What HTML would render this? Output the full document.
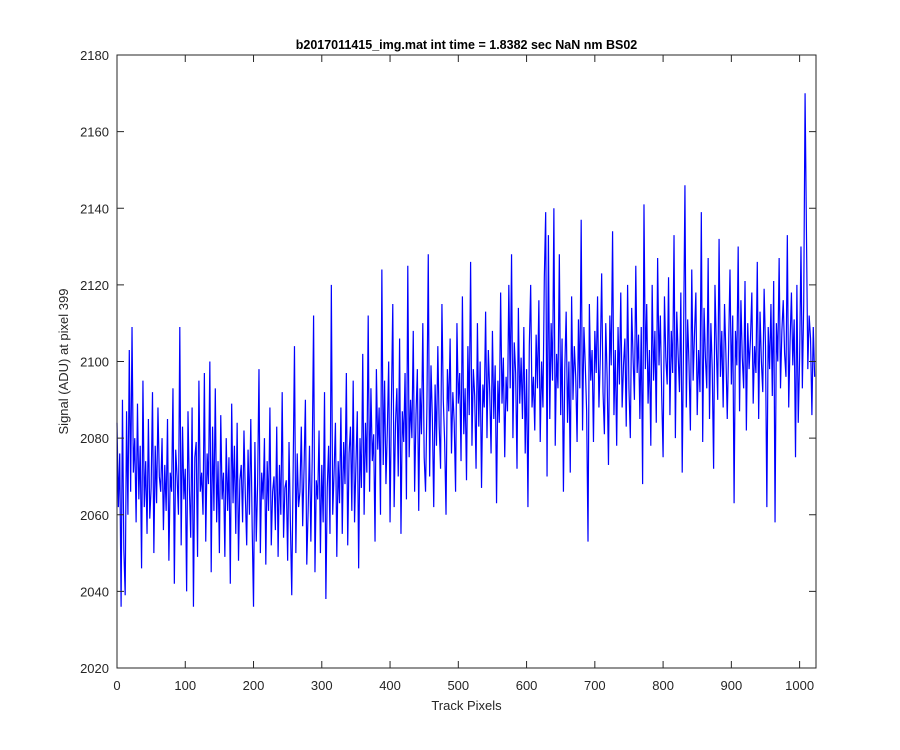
<!DOCTYPE html>
<html><head><meta charset="utf-8"><style>
body{margin:0;background:#fff;}
svg{display:block;font-family:"Liberation Sans",Arial,sans-serif;}
</style></head><body>
<svg id="chart" width="900" height="750">
<rect width="900" height="750" fill="#fff"/>
<g id="plot"></g>
</svg>
<script>
const xTicks=[0,100,200,300,400,500,600,700,800,900,1000];
const yTicks=[2020,2040,2060,2080,2100,2120,2140,2160,2180];
const step=2;
const signal=[
2084,2062,2076,2036,2090,2051,2039,2087,2060,2103,2066,2109,2071,2080,2058,2089,2064,2078,2046,2095,2062,2074,2055,2085,2059,2067,2092,2050,2078,2063,2088,2070,
2066,2080,2056,2073,2061,2085,2048,2071,2066,2093,2042,2077,2070,2060,2109,2052,2083,2064,2072,2040,2087,2067,2054,2088,2036,2075,2079,2049,2095,2066,2071,2060,
2097,2053,2076,2068,2100,2045,2083,2061,2093,2058,2074,2050,2086,2064,2071,2049,2080,2061,2075,2042,2089,2063,2078,2055,2084,2048,2069,2073,2058,2082,2065,2052,
2077,2060,2085,2057,2036,2079,2053,2068,2098,2050,2071,2064,2080,2047,2074,2061,2088,2052,2066,2070,2056,2083,2049,2073,2060,2092,2054,2067,2069,2048,2079,2058,
2039,2071,2104,2050,2076,2062,2066,2083,2057,2072,2090,2047,2061,2078,2053,2075,2112,2045,2069,2064,2082,2050,2073,2058,2092,2038,2067,2078,2055,2120,2060,2071,
2084,2049,2074,2063,2088,2055,2079,2068,2097,2052,2076,2083,2061,2095,2058,2073,2087,2046,2080,2067,2102,2060,2084,2071,2112,2066,2093,2074,2081,2053,2098,2077,
2088,2060,2124,2073,2095,2068,2082,2100,2058,2089,2115,2062,2084,2093,2070,2106,2055,2087,2079,2097,2064,2125,2075,2090,2080,2108,2066,2086,2098,2061,2093,2081,
2110,2075,2066,2088,2128,2070,2099,2085,2062,2094,2078,2104,2083,2072,2115,2090,2079,2060,2098,2087,2106,2076,2092,2084,2066,2110,2089,2097,2074,2117,2081,2093,
2069,2104,2086,2126,2078,2098,2091,2072,2110,2083,2100,2067,2094,2088,2113,2080,2103,2092,2076,2108,2085,2099,2063,2095,2084,2118,2089,2101,2075,2096,2087,2120,
2093,2128,2080,2105,2097,2072,2114,2089,2101,2085,2109,2076,2098,2062,2104,2120,2088,2096,2082,2107,2093,2116,2079,2100,2088,2122,2139,2070,2133,2085,2110,2095,
2140,2078,2102,2093,2128,2086,2106,2066,2098,2113,2084,2100,2071,2117,2090,2104,2096,2079,2111,2093,2137,2082,2109,2099,2087,2053,2115,2095,2103,2079,2108,2097,
2117,2088,2101,2123,2092,2081,2110,2096,2073,2112,2099,2134,2086,2103,2078,2109,2094,2118,2088,2099,2106,2083,2120,2093,2080,2114,2101,2090,2125,2097,2107,2085,
2109,2068,2141,2098,2115,2089,2103,2078,2120,2095,2108,2084,2127,2099,2112,2091,2075,2117,2101,2094,2122,2086,2108,2097,2133,2080,2113,2102,2092,2118,2071,2106,
2146,2088,2111,2099,2082,2124,2095,2107,2118,2086,2103,2092,2139,2079,2114,2101,2093,2127,2085,2110,2098,2072,2120,2104,2090,2132,2096,2108,2088,2115,2102,2085,
2104,2124,2094,2112,2063,2108,2099,2130,2087,2116,2101,2093,2121,2082,2110,2098,2106,2118,2089,2104,2097,2126,2085,2113,2100,2092,2119,2104,2062,2109,2098,2115,
2091,2121,2058,2110,2100,2127,2093,2108,2116,2102,2096,2133,2088,2105,2118,2099,2111,2075,2120,2084,2101,2130,2093,2115,2170,2134,2098,2112,2106,2086,2109,2096
];
const L=117,R=816,T=55,B=668,XMAX=1024,YMIN=2020,YMAX=2180;
const xs=v=>L+(v/XMAX)*(R-L);
const ys=v=>B-(v-YMIN)/(YMAX-YMIN)*(B-T);
const NS='http://www.w3.org/2000/svg';
const g=document.getElementById('plot');
function mk(t,a){const e=document.createElementNS(NS,t);for(const k in a)e.setAttribute(k,a[k]);g.appendChild(e);return e;}
const pts=signal.map((v,i)=>xs(i*step).toFixed(2)+','+ys(v).toFixed(2)).join(' ');
const line=mk('polyline',{points:pts,fill:'none',stroke:'#0000ff','stroke-width':1.2});


const box=mk('rect',{x:L,y:T,width:R-L,height:B-T,fill:'none',stroke:'#262626','stroke-width':1});


xTicks.forEach(v=>{const x=xs(v);
mk('line',{x1:x,x2:x,y1:B,y2:B-7,stroke:'#262626'});
mk('line',{x1:x,x2:x,y1:T,y2:T+7,stroke:'#262626'});
const t=mk('text',{x:x,y:B+22,'text-anchor':'middle','font-size':13,fill:'#262626'});t.textContent=v;

});
yTicks.forEach(v=>{const y=ys(v);
mk('line',{x1:L,x2:L+7,y1:y,y2:y,stroke:'#262626'});
mk('line',{x1:R,x2:R-7,y1:y,y2:y,stroke:'#262626'});
const t=mk('text',{x:L-8,y:y+5,'text-anchor':'end','font-size':13,fill:'#262626'});t.textContent=v;

});
const title=mk('text',{x:(L+R)/2,y:49,'text-anchor':'middle','font-size':12.5,'font-weight':'bold',fill:'#000'});
title.textContent='b2017011415_img.mat int time = 1.8382 sec  NaN nm BS02';


const xl=mk('text',{x:(L+R)/2,y:710,'text-anchor':'middle','font-size':13,fill:'#262626'});
xl.textContent='Track Pixels';


const yl=mk('text',{x:0,y:0,'text-anchor':'middle','font-size':13,fill:'#262626',transform:'translate(68,'+((T+B)/2)+') rotate(-90)'});
yl.textContent='Signal (ADU) at pixel 399';


</script>
</body></html>
